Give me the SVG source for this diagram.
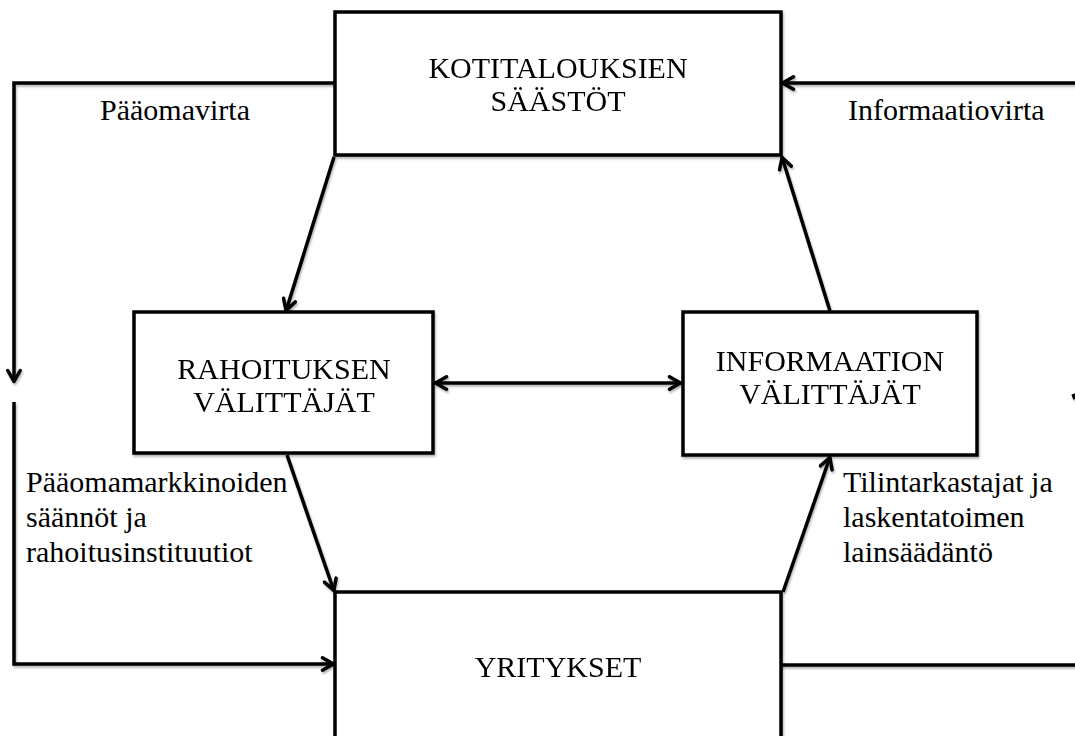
<svg xmlns="http://www.w3.org/2000/svg" width="1075" height="736" viewBox="0 0 1075 736">
  <defs>
    <style>
      .box { fill: #ffffff; stroke: #000000; stroke-width: 3.5; }
      .line { fill: none; stroke: #000000; stroke-width: 3.5; stroke-linejoin: miter; }
      .arrow { marker-end: url(#head); }
      .both { marker-start: url(#tail); marker-end: url(#head); }
      text { font-family: "Liberation Serif", "Times New Roman", serif; font-size: 30px; fill: #000000; }
      .mid { text-anchor: middle; }
    </style>
    <filter id="shadow" x="-5%" y="-5%" width="110%" height="110%">
      <feDropShadow dx="1" dy="2" stdDeviation="1.3" flood-color="#000000" flood-opacity="0.3"/>
    </filter>
    <marker id="head" viewBox="0 0 16 16" refX="14" refY="8" markerWidth="16" markerHeight="16" markerUnits="userSpaceOnUse" orient="auto">
      <path d="M2.5,1.8 L13.5,8 L2.5,14.2" fill="none" stroke="#000000" stroke-width="3.5" stroke-linecap="round" stroke-linejoin="round"/>
    </marker>
    <marker id="tail" viewBox="0 0 16 16" refX="2" refY="8" markerWidth="16" markerHeight="16" markerUnits="userSpaceOnUse" orient="auto">
      <path d="M13.5,1.8 L2.5,8 L13.5,14.2" fill="none" stroke="#000000" stroke-width="3.5" stroke-linecap="round" stroke-linejoin="round"/>
    </marker>
  </defs>

  <rect width="1075" height="736" fill="#ffffff"/>

  <!-- connectors -->
  <g id="connectors" filter="url(#shadow)">
    <!-- capital flow: households down the left side -->
    <polyline class="line arrow" points="335,83 14,83 14,382"/>
    <polyline class="line arrow" points="14,402 14,664 334,664"/>
    <!-- information flow: right side back into households -->
    <line class="line arrow" x1="1078" y1="83" x2="782" y2="83"/>
    <line class="line" x1="781" y1="665" x2="1078" y2="665"/>
    <line class="line" x1="1073" y1="394" x2="1075" y2="399"/>
    <!-- hexagon links -->
    <line class="line arrow" x1="334" y1="157" x2="286" y2="311"/>
    <line class="line arrow" x1="287" y1="455" x2="334" y2="591"/>
    <line class="line arrow" x1="783" y1="592" x2="830" y2="457"/>
    <line class="line arrow" x1="830" y1="311" x2="782" y2="157"/>
    <line class="line both" x1="435" y1="383" x2="681" y2="383"/>
  </g>

  <!-- nodes -->
  <g id="savings" filter="url(#shadow)">
    <rect class="box" x="335" y="12" width="446" height="143"/>
    <text class="mid" x="558" y="78">KOTITALOUKSIEN</text>
    <text class="mid" x="558" y="111">SÄÄSTÖT</text>
  </g>

  <g id="financial-intermediaries" filter="url(#shadow)">
    <rect class="box" x="134" y="312" width="299" height="141"/>
    <text class="mid" x="284" y="379">RAHOITUKSEN</text>
    <text class="mid" x="284" y="412">VÄLITTÄJÄT</text>
  </g>

  <g id="information-intermediaries" filter="url(#shadow)">
    <rect class="box" x="683" y="312" width="294" height="143"/>
    <text class="mid" x="830" y="371">INFORMAATION</text>
    <text class="mid" x="830" y="404">VÄLITTÄJÄT</text>
  </g>

  <g id="companies" filter="url(#shadow)">
    <rect class="box" x="335" y="592" width="446" height="160"/>
    <text class="mid" x="558" y="677">YRITYKSET</text>
  </g>

  <!-- flow labels -->
  <g id="labels">
    <text x="100" y="120">Pääomavirta</text>
    <text x="848" y="120">Informaatiovirta</text>
    <text x="26" y="492">Pääomamarkkinoiden</text>
    <text x="26" y="527">säännöt ja</text>
    <text x="26" y="562">rahoitusinstituutiot</text>
    <text x="843" y="492">Tilintarkastajat ja</text>
    <text x="843" y="527">laskentatoimen</text>
    <text x="843" y="562">lainsäädäntö</text>
  </g>
</svg>
